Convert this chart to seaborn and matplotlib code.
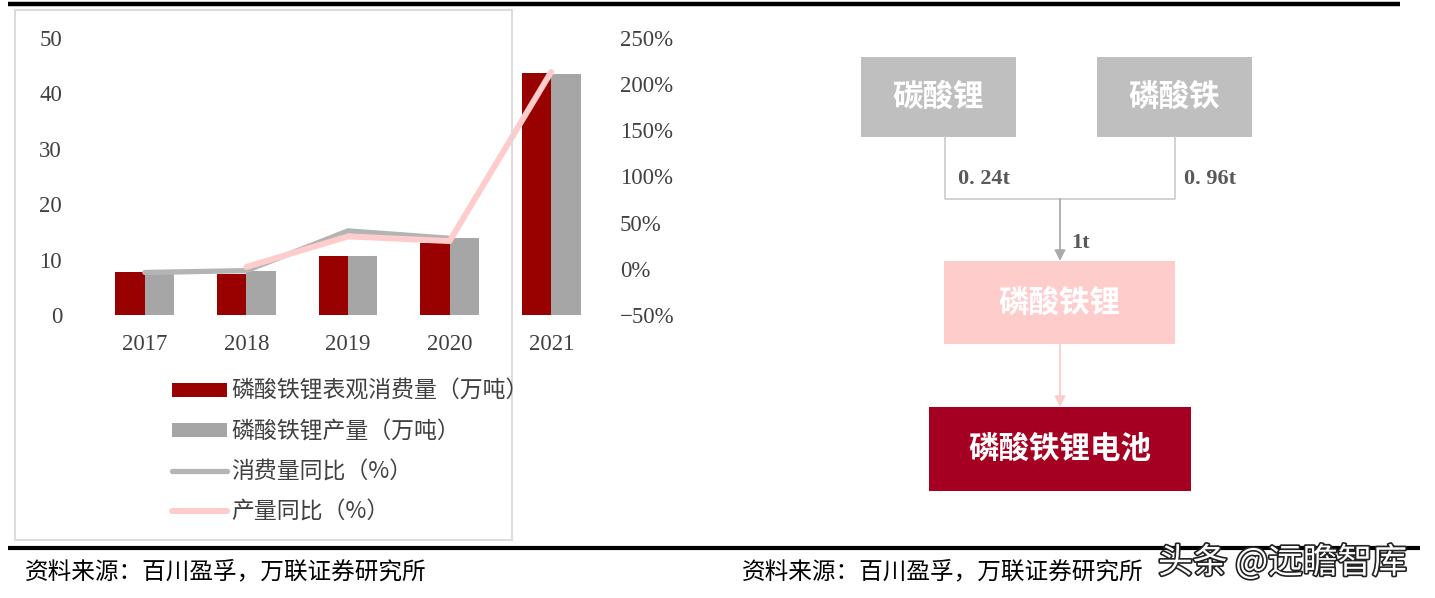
import numpy as np
import pandas as pd
import matplotlib
matplotlib.use("Agg")
import matplotlib.pyplot as plt
import seaborn as sns
from matplotlib.patches import Rectangle, Patch
from matplotlib.lines import Line2D
import matplotlib.patheffects as pe

# ---------------- data ----------------
years = ["2017", "2018", "2019", "2020", "2021"]
consumption = [7.8, 7.4, 10.6, 13.0, 43.6]          # 磷酸铁锂表观消费量（万吨）
production = [7.6, 7.9, 10.6, 13.9, 43.5]           # 磷酸铁锂产量（万吨）
consumption_yoy = [-4, -2, 41, 33, np.nan]          # 消费量同比（%）
production_yoy = [np.nan, 2, 35, 30, 213]           # 产量同比（%）

bar_names = ["磷酸铁锂表观消费量（万吨）", "磷酸铁锂产量（万吨）"]
line_names = ["消费量同比（%）", "产量同比（%）"]
left_ticks = [0, 10, 20, 30, 40, 50]
right_ticks = [-50, 0, 50, 100, 150, 200, 250]

flow_boxes = ["碳酸锂", "磷酸铁", "磷酸铁锂", "磷酸铁锂电池"]
flow_amounts = ["0. 24t", "0. 96t", "1t"]
source_text = "资料来源：百川盈孚，万联证券研究所"
watermark = "头条 @远瞻智库"

# ---------------- style ----------------
sns.set_theme(style="white")
CJK = ["Noto Sans CJK SC", "DejaVu Sans"]
SERIF = ["Liberation Serif", "DejaVu Serif"]
plt.rcParams["font.family"] = CJK
plt.rcParams["axes.unicode_minus"] = True

RED = "#990000"
GRAY = "#A6A6A6"
LGRAY = "#B4B4B4"
PINK = "#FFCCCC"
TXT = "#404040"

W, H = 1435, 598
fig = plt.figure(figsize=(W / 100, H / 100), dpi=100)

def fx(px):
    return px / W

def fy(py):
    return 1 - py / H

# ---------------- bar chart ----------------
ax_l, ax_r, ax_t, ax_b = 94, 602, 37.7, 315
ax = fig.add_axes([fx(ax_l), fy(ax_b), (ax_r - ax_l) / W, (ax_b - ax_t) / H])
df = pd.DataFrame({
    "year": years * 2,
    "value": consumption + production,
    "series": [bar_names[0]] * len(years) + [bar_names[1]] * len(years),
})
sns.barplot(data=df, x="year", y="value", hue="series", order=years,
            hue_order=bar_names, palette=[RED, GRAY], width=0.58, gap=0,
            linewidth=0, saturation=1, legend=False, ax=ax)
ax.set_ylim(0, 50)
ax.set_xlim(-0.5, len(years) - 0.5)
ax.set_yticks(left_ticks)
ax.set_yticklabels([str(t) for t in left_ticks])
ax.set_xlabel("")
ax.set_ylabel("")
for s in ax.spines.values():
    s.set_visible(False)
ax.tick_params(axis="y", length=0, pad=23, labelsize=16.5, labelcolor=TXT)
ax.tick_params(axis="x", length=0, pad=14, labelsize=16.5, labelcolor=TXT)
for lab in ax.get_xticklabels() + ax.get_yticklabels():
    lab.set_fontfamily(SERIF)

ax2 = ax.twinx()
xpos = np.arange(len(years))
sns.lineplot(x=xpos, y=consumption_yoy, color=LGRAY, linewidth=3.8, ax=ax2,
             solid_capstyle="round", solid_joinstyle="round")
sns.lineplot(x=xpos, y=production_yoy, color=PINK, linewidth=4.3, ax=ax2,
             solid_capstyle="round", solid_joinstyle="round")
ax2.set_ylim(-50, 250)
ax2.set_yticks(right_ticks)
ax2.set_yticklabels([f"{t}%".replace("-", "\u2212") for t in right_ticks])
for s in ax2.spines.values():
    s.set_visible(False)
ax2.tick_params(axis="y", length=0, pad=13, labelsize=16.5, labelcolor=TXT)
for lab in ax2.get_yticklabels():
    lab.set_fontfamily(SERIF)
ax2.set_ylabel("")

handles = [
    Patch(facecolor=RED, edgecolor="none"),
    Patch(facecolor=GRAY, edgecolor="none"),
    Line2D([0], [0], color=LGRAY, lw=3.8, solid_capstyle="round"),
    Line2D([0], [0], color=PINK, lw=4.3, solid_capstyle="round"),
]
fig.legend(handles, bar_names + line_names, loc="upper left",
           bbox_to_anchor=(fx(172), fy(380)), frameon=False,
           prop={"family": CJK, "size": 16.5}, labelcolor=TXT,
           handlelength=2.4, handleheight=0.6, handletextpad=0.2,
           labelspacing=0.75, borderpad=0, borderaxespad=0)

# ---------------- overlay: frames, diagram, text ----------------
ov = fig.add_axes([0, 0, 1, 1], facecolor="none")
ov.set_xlim(0, W)
ov.set_ylim(H, 0)
ov.axis("off")

# panel frame & rules
ov.add_patch(Rectangle((15, 10), 497, 530, fill=False, edgecolor="#D9D9D9", lw=1.3))
ov.plot([8, 1400], [4, 4], color="black", lw=3.2, solid_capstyle="butt")
ov.plot([8, 1420], [548, 548], color="black", lw=3.0, solid_capstyle="butt")

# source lines
for x0 in (25, 742):
    ov.text(x0, 572, source_text, fontsize=17, color="black", ha="left",
            va="center", family=CJK, style="italic")
ov.text(1158, 563, watermark, fontsize=25, color="white", ha="left", va="center",
        family=CJK, path_effects=[pe.withStroke(linewidth=2.4, foreground="#222222")])

# flow diagram
BOXG = "#BFBFBF"
DRED = "#A50021"
CONN = "#CFCFCF"
boxes = [
    (861, 57, 155, 80, BOXG),
    (1097, 57, 155, 80, BOXG),
    (944, 261, 231, 83, PINK),
    (929, 407, 262, 84, DRED),
]
for (x, y, w, h, c), label in zip(boxes, flow_boxes):
    ov.add_patch(Rectangle((x, y), w, h, facecolor=c, edgecolor="none"))
    ov.text(x + w / 2, y + h / 2, label, fontsize=22, color="white", weight="bold",
            ha="center", va="center", family=CJK)

ov.plot([945, 945, 1175, 1175], [137, 199, 199, 137], color=CONN, lw=1.3)
ov.annotate("", xy=(1060, 261), xytext=(1060, 199),
            arrowprops=dict(arrowstyle="-|>", color="#AAAAAA", lw=1.3,
                            mutation_scale=16, shrinkA=0, shrinkB=0))
ov.annotate("", xy=(1060, 407), xytext=(1060, 344),
            arrowprops=dict(arrowstyle="-|>", color=PINK, lw=1.3,
                            mutation_scale=16, shrinkA=0, shrinkB=0))
lab_pos = [(958, 179), (1184, 179), (1071, 243)]
for (x, y), t in zip(lab_pos, flow_amounts):
    ov.text(x, y, t, fontsize=16, color="#595959", weight="bold", ha="left",
            va="center", family=SERIF)

fig.savefig("out.png", dpi=100)
